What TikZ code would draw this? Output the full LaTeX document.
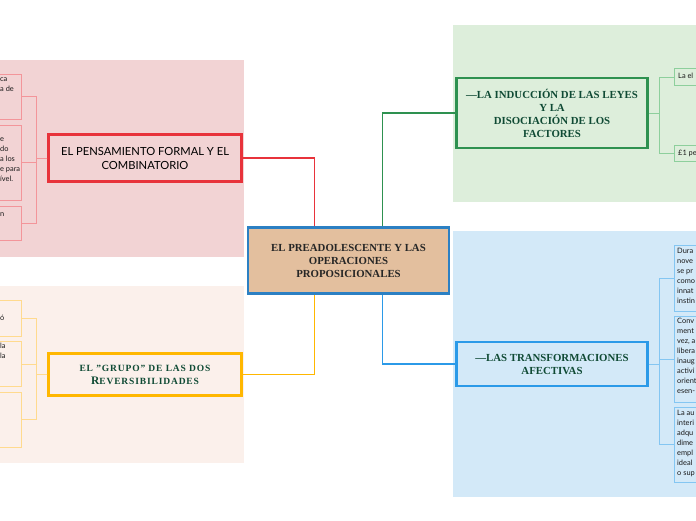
\documentclass[tikz,border=0pt]{standalone}
\usepackage{fontspec}
\setmainfont{Liberation Serif}[Ligatures=ResetAll]
\newfontfamily\labelfont{Lato}
\usetikzlibrary{positioning}
\definecolor{pensa}{HTML}{E8333B}
\definecolor{pensabg}{HTML}{F2D3D4}
\definecolor{pensasub}{HTML}{F3959A}
\definecolor{grupo}{HTML}{FFB700}
\definecolor{grupobg}{HTML}{FBF0EB}
\definecolor{gruposub}{HTML}{FFDA8E}
\definecolor{induc}{HTML}{2E9150}
\definecolor{inducbg}{HTML}{DDEEDB}
\definecolor{inducsub}{HTML}{8DCF9C}
\definecolor{afect}{HTML}{2B9AE8}
\definecolor{afectbg}{HTML}{D3E9F8}
\definecolor{afectsub}{HTML}{84C6F2}
\definecolor{core}{HTML}{E3BF9E}
\definecolor{coreedge}{HTML}{2C80C3}
\definecolor{title}{HTML}{0F4A34}

\begin{document}
\begin{tikzpicture}[x=1pt,y=-1pt,
  topic/.style={draw,line width=2.5pt,align=center,inner sep=2pt},
  serifhead/.style={text=title,font=\bfseries\fontsize{10.8}{13}\selectfont},
  leaf/.style={draw,line width=1pt,minimum width=60pt},
  leaftext/.style={font=\labelfont\fontsize{7.4}{10}\selectfont,align=left,anchor=north west,inner sep=0pt,text=black!90,execute at begin node=\strut},
  link/.style={line width=1.4pt},
  twig/.style={line width=1pt}]
  \useasboundingbox (0,0) rectangle (696,520);
  \clip (0,0) rectangle (696,520);

  % panels
  \fill[pensabg] (0,60) rectangle (244,257);
  \fill[grupobg] (0,286) rectangle (244,463);
  \fill[inducbg] (453,25) rectangle (696,202);
  \fill[afectbg] (453,231) rectangle (696,497);

  % centre and main topics
  \node[topic,draw=coreedge,fill=core,minimum width=201pt,minimum height=66pt,font=\bfseries\fontsize{10.8}{13}\selectfont,text=black!85] (core) at (348.5,260.5) {EL PREADOLESCENTE Y LAS\\OPERACIONES\\PROPOSICIONALES};
  \node[topic,draw=pensa,fill=pensabg,minimum width=193pt,minimum height=47pt,font=\labelfont\fontsize{11.2}{14}\selectfont] (pensa) at (145,158) {EL PENSAMIENTO FORMAL Y EL\\COMBINATORIO};
  \node[topic,draw=grupo,fill=grupobg,minimum width=193pt,minimum height=42pt,text=title,font=\bfseries\fontsize{9.5}{13}\selectfont\addfontfeatures{LetterSpace=9}] (grupo) at (145,374.5) {EL "GRUPO" DE LAS DOS\\{\fontsize{11.5}{13}\selectfont R}EVERSIBILIDADES};
  \node[topic,serifhead,draw=induc,fill=inducbg,minimum width=191pt,minimum height=70pt] (induc) at (552,113) {—LA INDUCCIÓN DE LAS LEYES\\Y LA\\DISOCIACIÓN DE LOS\\FACTORES};
  \node[topic,serifhead,draw=afect,fill=afectbg,minimum width=191pt,minimum height=44pt] (afect) at (552,364) {—LAS TRANSFORMACIONES\\AFECTIVAS};

  \draw[link,pensa] (core.north) ++(-34,0) |- (pensa.east);
  \draw[link,grupo] (core.south) ++(-34,0) |- (grupo.east);
  \draw[link,induc] (core.north) ++(34,0) |- (induc.west);
  \draw[link,afect] (core.south) ++(34,0) |- (afect.west);

  % left leaves
  \node[leaf,draw=pensasub,fill=pensabg,anchor=east,minimum height=45pt] (pensa1) at (22,96.5) {};
  \node[leaf,draw=pensasub,fill=pensabg,anchor=east,minimum height=75pt] (pensa2) at (22,162.5) {};
  \node[leaf,draw=pensasub,fill=pensabg,anchor=east,minimum height=34pt] (pensa3) at (22,223) {};
  \foreach \n in {1,2,3}
    \draw[twig,pensasub] (pensa.west) -- ++(-11,0) |- (pensa\n.east);
  \node[leaftext] (pensa1t) at (0,77) {ca\\a de};
  \node[leaftext] (pensa2t) at (0,137) {e\\do\\a los\\e para\\ível.};
  \node[leaftext] (pensa3t) at (0,209) {n};

  \node[leaf,draw=gruposub,fill=grupobg,anchor=east,minimum height=36pt] (grupo1) at (22,318.5) {};
  \node[leaf,draw=gruposub,fill=grupobg,anchor=east,minimum height=45pt] (grupo2) at (22,364) {};
  \node[leaf,draw=gruposub,fill=grupobg,anchor=east,minimum height=55pt] (grupo3) at (22,419.5) {};
  \foreach \n in {1,2,3}
    \draw[twig,gruposub] (grupo.west) -- ++(-11,0) |- (grupo\n.east);
  \node[leaftext] (grupo1t) at (0,313) {ó};
  \node[leaftext] (grupo2t) at (0,343) {la\\la};

  % right leaves
  \node[leaf,draw=inducsub,fill=inducbg,anchor=west,minimum height=17pt] (induc1) at (674,77) {};
  \node[leaf,draw=inducsub,fill=inducbg,anchor=west,minimum height=16pt] (induc2) at (674,153) {};
  \foreach \n in {1,2}
    \draw[twig,inducsub] (induc.east) -- ++(11,0) |- (induc\n.west);
  \node[leaftext] (induc1t) at (678,71) {La el};
  \node[leaftext] (induc2t) at (678,148) {£1 pe};

  \node[leaf,draw=afectsub,fill=afectbg,anchor=west,minimum height=66pt] (afect1) at (674,278) {};
  \node[leaf,draw=afectsub,fill=afectbg,anchor=west,minimum height=86pt] (afect2) at (674,359) {};
  \node[leaf,draw=afectsub,fill=afectbg,anchor=west,minimum height=75pt] (afect3) at (674,444.5) {};
  \foreach \n in {1,2,3}
    \draw[twig,afectsub] (afect.east) -- ++(11,0) |- (afect\n.west);
  \node[leaftext] (afect1t) at (677,248) {Dura\\nove\\se pr\\como\\innat\\instin};
  \node[leaftext] (afect2t) at (677,318) {Conv\\ment\\vez, a\\libera\\inaug\\activi\\orient\\esen-};
  \node[leaftext] (afect3t) at (677,410) {La au\\interi\\adqu\\dime\\empl\\ideal\\o sup};
\end{tikzpicture}
\end{document}
